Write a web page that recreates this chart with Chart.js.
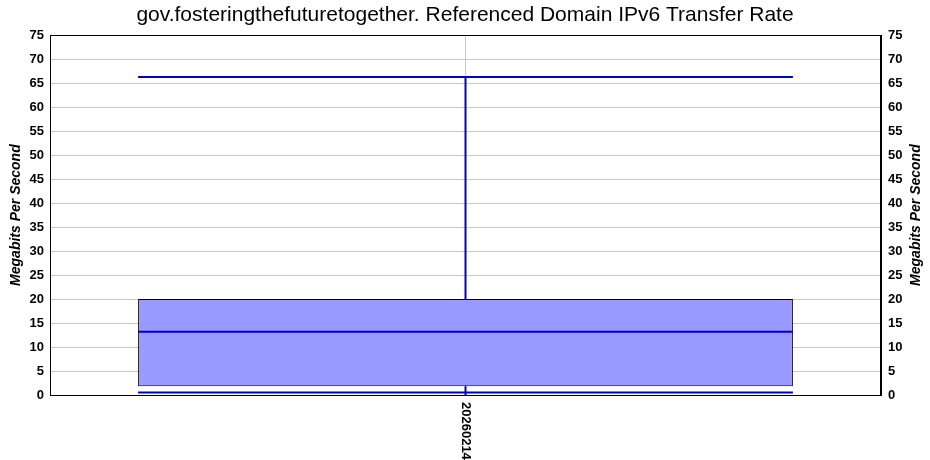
<!DOCTYPE html>
<html>
<head>
<meta charset="utf-8">
<script src="https://cdn.jsdelivr.net/npm/chart.js@4.4.1/dist/chart.umd.min.js"></script>
<style>
html,body{margin:0;padding:0;background:#fff;}
#wrap{width:930px;height:460px;}
</style>
</head>
<body>
<div id="wrap"><canvas id="c" width="930" height="460"></canvas></div>
<script>
const categories = ['20260214'];
const whiskerMin = [0.5];
const q1 = [1.8];
const median = [13.2];
const q3 = [20];
const whiskerMax = [66.3];
const yTitle = 'Megabits Per Second';
const chartTitle = 'gov.fosteringthefuturetogether. Referenced Domain IPv6 Transfer Rate';

const FONT = '"Liberation Sans", Arial, sans-serif';
const BLUE = '#0000cc';

const boxPlugin = {
  id: 'boxExtras',
  afterDatasetsDraw(chart) {
    const ctx = chart.ctx;
    const y = chart.scales.y;
    const meta = chart.getDatasetMeta(0);
    ctx.save();
    meta.data.forEach((bar, i) => {
      const half = bar.width / 2;
      const x0 = bar.x - half, x1 = bar.x + half;
      const yMax = y.getPixelForValue(whiskerMax[i]);
      const yMin = y.getPixelForValue(whiskerMin[i]);
      const yQ3 = y.getPixelForValue(q3[i]);
      const yQ1 = y.getPixelForValue(q1[i]);
      const yMed = y.getPixelForValue(median[i]);
      ctx.strokeStyle = BLUE;
      ctx.lineWidth = 2;
      ctx.beginPath();
      ctx.moveTo(x0, yMax); ctx.lineTo(x1, yMax);
      ctx.moveTo(bar.x, yMax); ctx.lineTo(bar.x, yQ3);
      ctx.moveTo(bar.x, yQ1); ctx.lineTo(bar.x, yMin + 3);
      ctx.moveTo(x0, yMin); ctx.lineTo(x1, yMin);
      ctx.moveTo(x0, yMed); ctx.lineTo(x1, yMed);
      ctx.stroke();
    });
    // frame
    const a = chart.chartArea;
    ctx.strokeStyle = '#000';
    ctx.lineWidth = 1;
    ctx.strokeRect(Math.round(a.left) + 0.5, Math.round(a.top) + 0.5, Math.round(a.right - a.left) - 1, Math.round(a.bottom - a.top));
    // y titles (both read bottom-to-top)
    ctx.fillStyle = '#000';
    ctx.font = 'italic bold 14px ' + FONT;
    ctx.textAlign = 'center';
    ctx.textBaseline = 'middle';
    const cy = (a.top + a.bottom) / 2;
    [16, 916].forEach(cx => {
      ctx.save();
      ctx.translate(cx, cy);
      ctx.rotate(-Math.PI / 2);
      ctx.fillText(yTitle, 0, 0);
      ctx.restore();
    });
    // x labels (read top-to-bottom)
    const xs = chart.scales.x;
    ctx.font = 'bold 13px ' + FONT;
    ctx.textAlign = 'left';
    categories.forEach((c, i) => {
      ctx.save();
      ctx.translate(xs.getPixelForValue(i), a.bottom + 7);
      ctx.rotate(Math.PI / 2);
      ctx.fillText(c, 0, 0);
      ctx.restore();
    });
    ctx.restore();
  }
};

const tickFont = { family: FONT, size: 13, weight: 'bold' };

new Chart(document.getElementById('c'), {
  type: 'bar',
  data: {
    labels: categories,
    datasets: [{
      data: q1.map((v, i) => [v, q3[i]]),
      backgroundColor: '#9999ff',
      borderColor: '#000',
      borderWidth: 1,
      borderSkipped: false,
      barPercentage: 0.788,
      categoryPercentage: 1
    }]
  },
  options: {
    responsive: false,
    animation: false,
    events: [],
    layout: { padding: 0 },
    plugins: {
      legend: { display: false },
      tooltip: { enabled: false },
      title: {
        display: true,
        text: chartTitle,
        color: '#000',
        font: { family: FONT, size: 21, weight: 'normal' },
        padding: { top: 3, bottom: 7 }
      }
    },
    scales: {
      x: {
        ticks: { display: false },
        grid: { color: '#c8c8c8', offset: false, drawTicks: false },
        border: { color: '#000' },
        afterFit(s) { s.height = 65; }
      },
      y: {
        position: 'left',
        min: 0, max: 75,
        ticks: { stepSize: 5, color: '#000', font: tickFont, padding: 6 },
        grid: { color: '#c8c8c8', drawTicks: false },
        border: { color: '#000' },
        afterFit(s) { s.width = 50; }
      },
      y2: {
        position: 'right',
        min: 0, max: 75,
        ticks: { stepSize: 5, color: '#000', font: tickFont, padding: 7 },
        grid: { display: false, drawTicks: false },
        border: { color: '#000' },
        afterFit(s) { s.width = 49; }
      }
    }
  },
  plugins: [boxPlugin]
});
</script>
</body>
</html>
